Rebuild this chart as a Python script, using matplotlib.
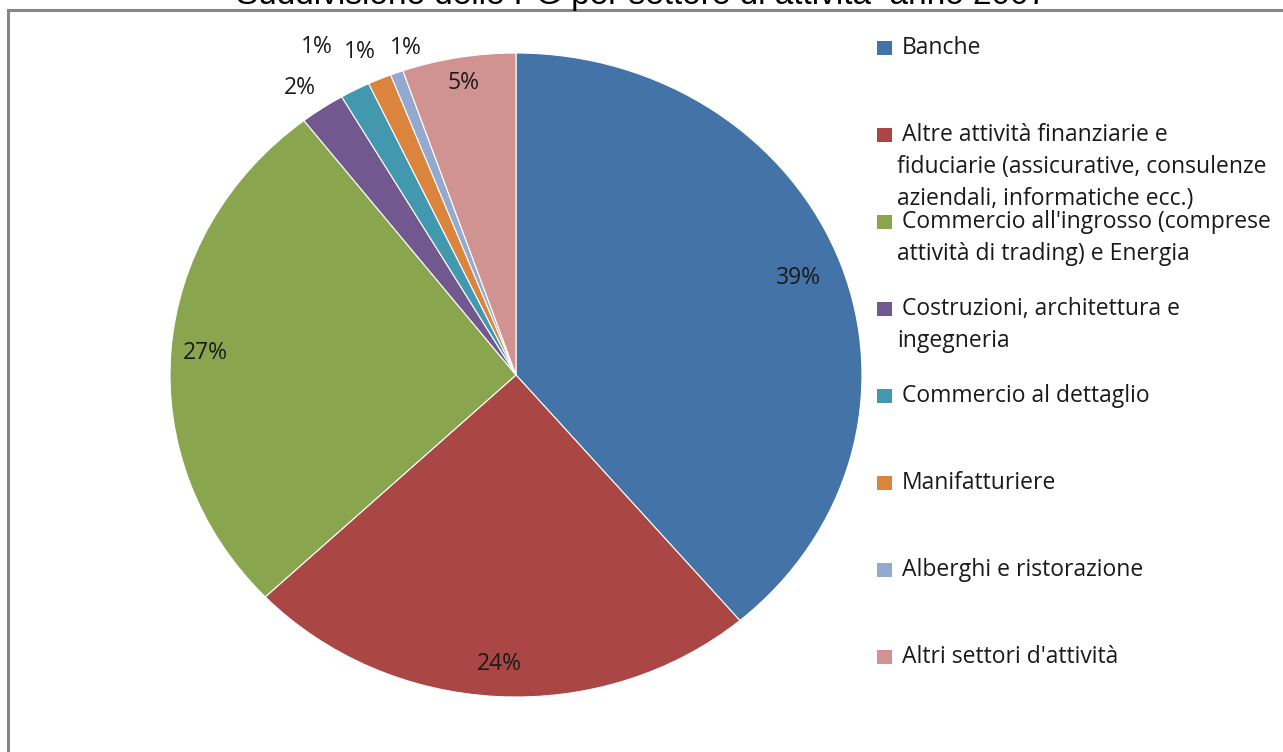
import matplotlib.pyplot as plt
from matplotlib.lines import Line2D
from matplotlib.patches import Rectangle
import numpy as np

# data
settori = ['Banche',
           'Altre attività finanziarie e\nfiduciarie (assicurative, consulenze\naziendali, informatiche ecc.)',
           "Commercio all'ingrosso (comprese\nattività di trading) e Energia",
           'Costruzioni, architettura e\ningegneria',
           'Commercio al dettaglio',
           'Manifatturiere',
           'Alberghi e ristorazione',
           "Altri settori d'attività"]
quote = [38.8, 24.1, 26.6, 2.1, 1.4, 1.1, 0.6, 5.3]
etichette = ['39%', '24%', '27%', '2%', '1%', '1%', '1%', '5%']
colori = ['#4473A7', '#AA4643', '#89A54E', '#71588F', '#4198AF', '#DB843D', '#93A9CF', '#D19392']

# % label placement: distance from centre (fraction of radius) and angle shift (deg)
dist_lab = [0.87, 0.9, 0.9, 1.09, 1.17, 1.1, 1.065, 0.92]
shift_lab = [0, 0, 0, 1.0, 1.7, 1.0, -2.7, 0]

W, H = 1283, 752
FONT = 'Open Sans'
FS = 16.5
fig = plt.figure(figsize=(W / 100, H / 100), dpi=100)
fig.patch.set_facecolor('white')

def px(x, y):
    return x / W, 1 - y / H

# pie occupies box x 170..862, y 53..697 (slightly wider than tall)
l, t = px(170, 53)
r, b = px(862, 697)
ax = fig.add_axes([l, b, r - l, t - b])
wedges, _ = ax.pie(quote, colors=colori, startangle=90, counterclock=False,
                   radius=1, wedgeprops=dict(edgecolor='white', linewidth=0.8))
ax.set_aspect('auto')
ax.set_xlim(-1, 1)
ax.set_ylim(-1, 1)
ax.axis('off')

for w, lab, d, s in zip(wedges, etichette, dist_lab, shift_lab):
    ang = np.deg2rad((w.theta1 + w.theta2) / 2 + s)
    ax.text(d * np.cos(ang), d * np.sin(ang), lab, ha='center', va='center',
            fontsize=FS, family=FONT, color='#1a1a1a')

# legend drawn by hand, Excel style
for i, (lab, c) in enumerate(zip(settori, colori)):
    y0 = 48 + 87 * i
    x0, y1 = px(877, y0 - 7)
    x1, y2 = px(892, y0 + 7)
    fig.patches.append(Rectangle((x0, y2), x1 - x0, y1 - y2, transform=fig.transFigure,
                                 facecolor=c, edgecolor='none'))
    lines = lab.split('\n')
    for j, ln in enumerate(lines):
        xx = 902 if j == 0 else 897
        fig.text(*px(xx, y0 + 32 * j), ln, ha='left', va='center',
                 fontsize=FS, family=FONT, color='#1a1a1a')

# title, cut by the top of the screenshot
fig.text(*px(641, 4), 'Suddivisione delle PG per settore di attività  anno 2007',
         ha='center', va='baseline', fontsize=24, family='Liberation Sans', color='black')

# chart border
fig.add_artist(Line2D([px(8, 0)[0], 1], [px(0, 10)[1]] * 2, color='#868686', lw=2.2,
                      transform=fig.transFigure))
fig.add_artist(Line2D([px(8, 0)[0]] * 2, [px(0, 10)[1], 0], color='#868686', lw=2.2,
                      transform=fig.transFigure))

fig.savefig('out.png', dpi=100)
